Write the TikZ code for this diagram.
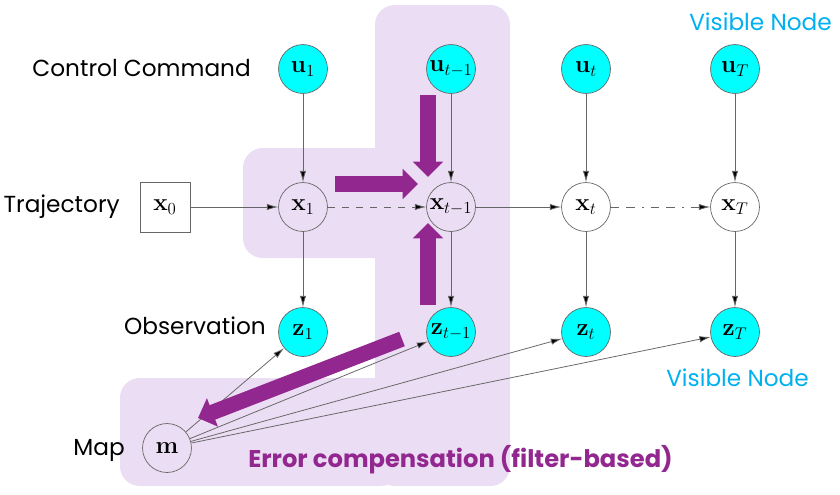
\documentclass[tikz,border=0pt]{standalone}
\usepackage{amsmath,amssymb}
\usepackage[no-math]{fontspec}
\newfontfamily\gothic{Poppins}
\usepackage{tikz}
\usetikzlibrary{arrows.meta}
\definecolor{lav}{HTML}{EBDDF3}
\definecolor{plum}{HTML}{92278F}
\definecolor{visblue}{HTML}{00B0F0}
\definecolor{aqua}{RGB}{0,255,255}
\tikzset{
latent/.style = {circle, draw=black!60, line width=0.5pt, minimum size=#1, inner sep=0pt, font=\fontsize{16.5}{19}\selectfont},
latent/.default = 34.8pt, % circle diameter
seen/.style = {latent, fill=aqua},
lbl/.style = {font=\gothic\fontsize{16.5}{19}\selectfont, inner sep=0pt},
conn/.style = {draw=black!60, line width=0.55pt, -{Latex[length=8pt,width=4.5pt,fill=black]}},
fat/.style = {plum, line width=11pt, -{Triangle[length=11pt,width=21pt]}},
}

\begin{document}
\begin{tikzpicture}[x=0.025cm, y=-0.025cm]
  \useasboundingbox (0,0) rectangle (840,494);

  % Shading
    \fill[lav, rounded corners=14pt] (375,5) rectangle (510,486);
    \fill[lav, rounded corners=14pt] (243,148) rectangle (420,258);
    \fill[lav, rounded corners=14pt] (120,378) rectangle (400,486);

  % Controls
    \node[seen] (u1) at (303,69) {$\mathbf{u}_1$};
    \node[seen] (u2) at (451,69) {$\mathbf{u}_{t-1}$};
    \node[seen] (u3) at (586,69) {$\mathbf{u}_t$};
    \node[seen] (u4) at (735,69) {$\mathbf{u}_T$};

  % States
    \node[draw=black!60, fill=white, line width=0.5pt, minimum size=35.5pt, inner sep=0pt, font=\fontsize{16.5}{19}\selectfont] (x0) at (165,207) {$\mathbf{x}_0$};
    \node[latent] (x1) at (303,207) {$\mathbf{x}_1$};
    \node[latent] (x2) at (451,207) {$\mathbf{x}_{t-1}$};
    \node[latent] (x3) at (586,207) {$\mathbf{x}_t$};
    \node[latent] (x4) at (735,207) {$\mathbf{x}_T$};

  % Observations
    \node[seen] (z1) at (303,332) {$\mathbf{z}_1$};
    \node[seen] (z2) at (451,332) {$\mathbf{z}_{t-1}$};
    \node[seen] (z3) at (586,332) {$\mathbf{z}_t$};
    \node[seen] (z4) at (735,332) {$\mathbf{z}_T$};

  % Map
    \node[latent] (map) at (167,448) {$\mathbf{m}$};

  % Labels
    \node[lbl, anchor=east] (ctrlText) at (251,68) {Control Command};
    \node[lbl, anchor=east] (trajText) at (120,207) {Trajectory};
    \node[lbl, anchor=east] (obsText) at (266,326) {Observation};
    \node[lbl, anchor=east] (mapText) at (125,450) {Map};
    \node[lbl, anchor=east, visblue] (visTop) at (832,22) {Visible Node};
    \node[lbl, anchor=east, visblue] (visBot) at (809,378) {Visible Node};
    \node[lbl, anchor=west, plum, font=\gothic\bfseries\fontsize{17.2}{20}\selectfont] (errText) at (248,460) {Error compensation (filter-based)};

  % Lines
    \draw[conn] (x0) -- (x1);
    \draw[conn, dash pattern=on 5pt off 5pt] (x1) -- (x2);
    \draw[conn] (x2) -- (x3);
    \draw[conn, dash pattern=on 6pt off 5pt on 6pt off 5pt on 1.5pt off 5pt] (x3) -- (x4);
    \foreach \i in {1,...,4} {
      \draw[conn] (u\i) -- (x\i);
      \draw[conn] (x\i) -- (z\i);
      \draw[conn] (map) -- (z\i);
    }

  % Correction arrows
    \coordinate (dnStart) at (428,95);
    \coordinate (dnEnd) at (428,177);
    \coordinate (rtStart) at (335,184);
    \coordinate (rtEnd) at (418,184);
    \coordinate (upStart) at (428,305);
    \coordinate (upEnd) at (428,223);
    \coordinate (diagStart) at (402,339);
    \coordinate (diagEnd) at (198,418);
    \draw[fat] (dnStart) -- (dnEnd);
    \draw[fat] (rtStart) -- (rtEnd);
    \draw[fat] (upStart) -- (upEnd);
    \draw[fat] (diagStart) -- (diagEnd);
  \end{tikzpicture}
\end{document}
